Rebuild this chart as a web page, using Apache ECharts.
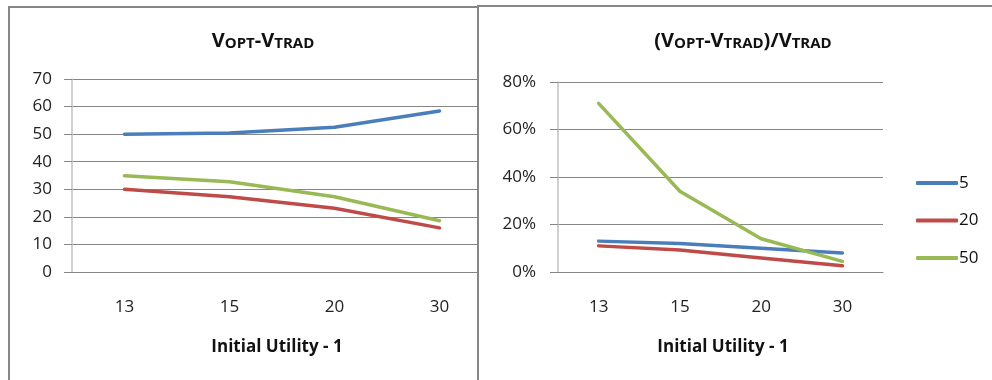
<!DOCTYPE html>
<html>
<head>
<meta charset="utf-8">
<script src="https://cdn.jsdelivr.net/npm/echarts@6/dist/echarts.min.js"></script>
<style>
  html, body { margin: 0; padding: 0; background: #fff; }
  #chart { width: 992px; height: 380px; }
</style>
</head>
<body>
<div id="chart"></div>
<script>
// Initial utility levels (x categories)
const categories = ['13', '15', '20', '30'];
const seriesNames = ['5', '20', '50'];

// Absolute gain V_OPT - V_TRAD
const diff5 = [50, 50.4, 52.5, 58.4];
const diff20 = [30, 27.3, 23.1, 16];
const diff50 = [34.9, 32.7, 27.3, 18.6];

// Relative gain (V_OPT - V_TRAD) / V_TRAD
const rel5 = [0.13, 0.12, 0.10, 0.08];
const rel20 = [0.11, 0.093, 0.059, 0.026];
const rel50 = [0.71, 0.34, 0.14, 0.045];

const leftTicks = { min: 0, max: 70, interval: 10 };
const rightTicks = { min: 0, max: 0.8, interval: 0.2 };

const colors = ['#4a7ebb', '#be4b48', '#98b954'];
const FONT = '"Open Sans", Lato, sans-serif';
const gridGray = '#868686';
const textColor = '#222';

// Titles use small caps: full-size initial letters, smaller capitals for subscripts
const titleRich = {
  b: { fontSize: 20, fontWeight: 'bold', fontFamily: FONT, color: '#111', verticalAlign: 'bottom', lineHeight: 26 },
  s: { fontSize: 15, fontWeight: 'bold', fontFamily: FONT, color: '#111', verticalAlign: 'bottom', lineHeight: 26 }
};

function xAxisFor(gridIndex, z) {
  return {
    type: 'category', gridIndex, z,
    data: categories,
    boundaryGap: true,
    axisLine: { show: true, lineStyle: { color: gridGray, width: 1 } },
    axisTick: { show: false },
    axisLabel: { margin: 27, fontSize: 17, fontFamily: FONT, color: textColor },
    splitLine: { show: false }
  };
}

function yAxisFor(gridIndex, z, ticks, fmt, margin) {
  return {
    type: 'value', gridIndex, z,
    min: ticks.min, max: ticks.max, interval: ticks.interval,
    axisLine: { show: true, lineStyle: { color: '#c0c0c0', width: 1.5 } },
    axisTick: { show: true, length: 8, lineStyle: { color: gridGray } },
    axisLabel: { margin, fontSize: 17, fontFamily: FONT, color: textColor, formatter: fmt },
    splitLine: { show: true, lineStyle: { color: gridGray, width: 1 } }
  };
}

function lineSeries(name, data, idx, color) {
  return {
    name, type: 'line', data,
    xAxisIndex: idx, yAxisIndex: idx,
    z: 3,
    symbol: 'none', smooth: false,
    lineStyle: { color, width: 3.5, cap: 'round', join: 'round' },
    itemStyle: { color }
  };
}

const axisTitleStyle = { fontSize: 17, fontWeight: 'bold', fontFamily: FONT, color: '#111' };

const chart = echarts.init(document.getElementById('chart'), null, { renderer: 'canvas' });

chart.setOption({
  animation: false,
  backgroundColor: '#fff',
  color: colors,
  title: [
    {
      text: '{b|V}{s|OPT}{b|-V}{s|TRAD}',
      left: 258, top: 20, textAlign: 'center', z: 6,
      textStyle: { rich: titleRich }
    },
    {
      text: '{b|(V}{s|OPT}{b|-V}{s|TRAD}{b|)/V}{s|TRAD}',
      left: 738, top: 20, textAlign: 'center', z: 6,
      textStyle: { rich: titleRich }
    },
    {
      text: 'Initial Utility - 1',
      left: 272, top: 334, textAlign: 'center', z: 6,
      textStyle: axisTitleStyle
    },
    {
      text: 'Initial Utility - 1',
      left: 718, top: 334, textAlign: 'center', z: 6,
      textStyle: axisTitleStyle
    }
  ],
  graphic: [
    {
      type: 'rect', z: -5, silent: true,
      shape: { x: 9, y: 7, width: 469, height: 420 },
      style: { fill: 'none', stroke: '#878787', lineWidth: 2 }
    },
    {
      type: 'rect', z: 1, silent: true,
      shape: { x: 478, y: 6, width: 540, height: 420 },
      style: { fill: '#fff', stroke: '#878787', lineWidth: 2 }
    }
  ],
  legend: {
    data: seriesNames,
    orient: 'vertical',
    left: 911, top: 168,
    itemWidth: 42, itemHeight: 4,
    itemGap: 17.5,
    icon: 'roundRect',
    z: 6,
    textStyle: { fontSize: 17, fontFamily: FONT, color: '#111', lineHeight: 20, padding: [0, 0, 0, -4] }
  },
  grid: [
    { left: 72, top: 79, width: 420, height: 193 },
    { left: 558, top: 82, width: 325, height: 190 }
  ],
  xAxis: [xAxisFor(0, 0), xAxisFor(1, 2)],
  yAxis: [
    yAxisFor(0, 0, leftTicks, v => String(v), 20),
    yAxisFor(1, 2, rightTicks, v => Math.round(v * 100) + '%', 22)
  ],
  series: [
    lineSeries('5', diff5, 0, colors[0]),
    lineSeries('20', diff20, 0, colors[1]),
    lineSeries('50', diff50, 0, colors[2]),
    lineSeries('5', rel5, 1, colors[0]),
    lineSeries('20', rel20, 1, colors[1]),
    lineSeries('50', rel50, 1, colors[2])
  ]
});
</script>
</body>
</html>
